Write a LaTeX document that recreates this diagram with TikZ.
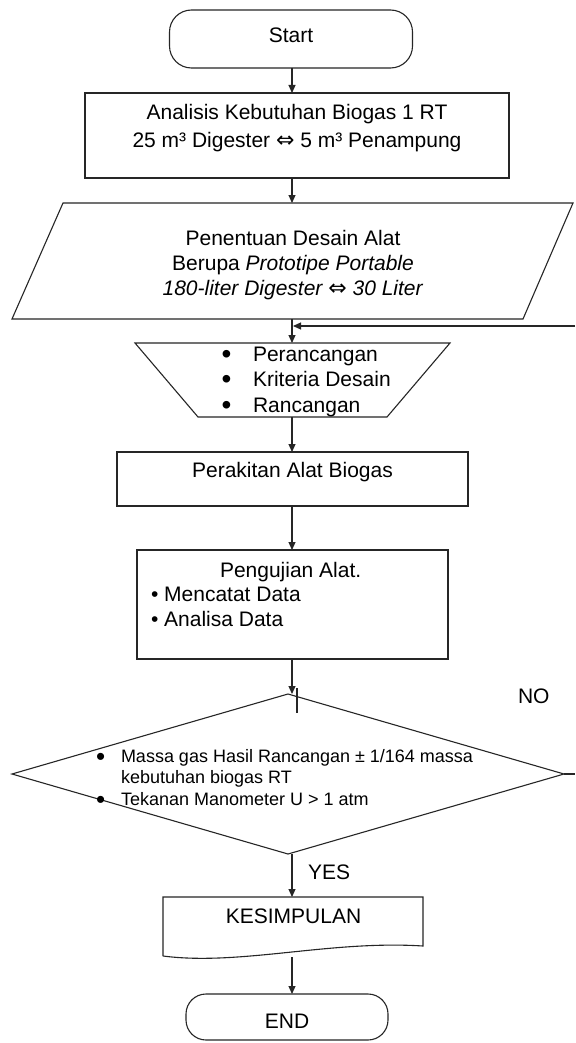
\documentclass[tikz,border=0pt]{standalone}
\usepackage{fontspec}
\setmainfont{Liberation Sans}
\newfontfamily\djv{DejaVu Sans}
\usetikzlibrary{arrows.meta,shapes.geometric}
\newcommand{\CLines}[2]{\vtop{\baselineskip=#1\relax\halign{\hfil##\hfil\cr#2\crcr}}}
\newcommand{\LLines}[2]{\vtop{\baselineskip=#1\relax\halign{##\hfil\cr#2\crcr}}}
\newcommand{\dar}{{\djv\upshape\fontsize{22}{22}\selectfont ⇔}}
\newcommand{\bul}{\raisebox{-3pt}{\fontsize{26}{26}\selectfont •}}
\newcommand{\tbul}{\raisebox{-2pt}{\fontsize{28}{28}\selectfont •}}
\begin{document}
\begin{tikzpicture}[x=1pt,y=-1pt,
  every node/.style={inner sep=0pt, outer sep=0pt},
  ln/.style={line width=1.1pt, draw=black!85},
  arr/.style={ln, -{Triangle[length=8pt,width=7pt]}},
  box/.style={ln, rectangle},
  term/.style={ln, rectangle, rounded corners=22pt},
  big/.style={font=\fontsize{21}{28}\selectfont},
  small/.style={font=\fontsize{18}{21.5}\selectfont}]
\useasboundingbox (0,0) rectangle (575,1043);
\fill[white] (0,0) rectangle (575,1043);

\coordinate (col) at (292,0);

% Start
\node[term, big, minimum width=243pt, minimum height=58pt, text height=8pt, text depth=0pt] (start) at (291,39) {Start};

% Box 1
\node[box, big, minimum width=424pt, minimum height=85pt, text height=0pt, text depth=31pt] (box1) at (297,135.5)
  {\CLines{28pt}{Analisis Kebutuhan Biogas 1 RT\cr 25 m³ Digester \dar{} 5 m³ Penampung}};

% Parallelogram
\draw[ln] (63,203) -- (573,203) -- (523,319) -- (12,319) -- cycle;
\coordinate (parT) at (292,203);
\coordinate (parB) at (292,319);
\node[big, text height=0pt, text depth=36pt] (par) at (293,263)
  {\CLines{25pt}{Penentuan Desain Alat\cr Berupa \textit{Prototipe Portable}\cr \textit{180-liter Digester \dar{} 30 Liter}}};

% Trapezoid
\draw[ln] (135,343) -- (450,343) -- (387,417) -- (198,417) -- cycle;
\coordinate (trapT) at (292,343);
\coordinate (trapB) at (292,417);
\node[big, anchor=base west] (trapt) at (221.5,361)
  {\LLines{25.5pt}{\makebox[31.5pt][l]{\tbul}Perancangan\cr\makebox[31.5pt][l]{\tbul}Kriteria Desain\cr\makebox[31.5pt][l]{\tbul}Rancangan}};

% Perakitan
\node[box, big, minimum width=351pt, minimum height=54pt, text height=0pt, text depth=4pt] (rak) at (292.5,479) {Perakitan Alat Biogas};

% Pengujian
\node[box, minimum width=311pt, minimum height=109pt] (uji) at (292.5,604.5) {};
\node[big, anchor=base west] (ujit) at (151,577)
  {\LLines{24.5pt}{\hskip69pt Pengujian Alat.\cr •\ Mencatat Data\cr •\ Analisa Data}};

% Decision
\node[ln, diamond, minimum width=552pt, minimum height=160pt] (dia) at (288,774) {};
\node[small, anchor=base west] (diat) at (96,762)
  {\LLines{21.5pt}{\makebox[25pt][l]{\bul}Massa gas Hasil Rancangan ± 1/164 massa\cr\hskip25pt kebutuhan biogas RT\cr\makebox[25pt][l]{\bul}Tekanan Manometer U > 1 atm}};
\coordinate (tickT) at (297,688);
\coordinate (tickB) at (297,713);
\node[big, anchor=base west] (no) at (518,703) {NO};
\node[big, anchor=base west] (yes) at (308,879) {YES};
\coordinate (noend) at (575,774);
\coordinate (fbstart) at (575,326);
\coordinate (fbend) at (293,326);

% Kesimpulan
\draw[ln] (163,956) -- (163,897) -- (423,897) -- (423,946) .. controls (330,940) and (240,966) .. (163,956);
\coordinate (kesT) at (292,897);
\coordinate (kesB) at (292,957);
\node[big, anchor=base] (kes) at (293.5,923) {KESIMPULAN};

% End
\node[term, big, rounded corners=20pt, minimum width=202pt, minimum height=46pt, text height=22pt, text depth=0pt] (fin) at (287,1017) {END};

% Connectors
\draw[arr] (start.south -| col) -- (box1.north -| col);
\draw[arr] (box1.south -| col) -- (parT);
\draw[arr] (parB) -- (trapT);
\draw[arr] (trapB) -- (rak.north -| col);
\draw[arr] (rak.south -| col) -- (uji.north -| col);
\draw[arr] (uji.south -| col) -- (dia.north -| col);
\draw[arr] (dia.south -| col) -- (kesT);
\draw[arr] (kesB) -- (fin.north -| col);
\draw[ln] (dia.east) -- (noend);
\draw[arr] (fbstart) -- (fbend);
\draw[ln] (tickT) -- (tickB);
\end{tikzpicture}
\end{document}
